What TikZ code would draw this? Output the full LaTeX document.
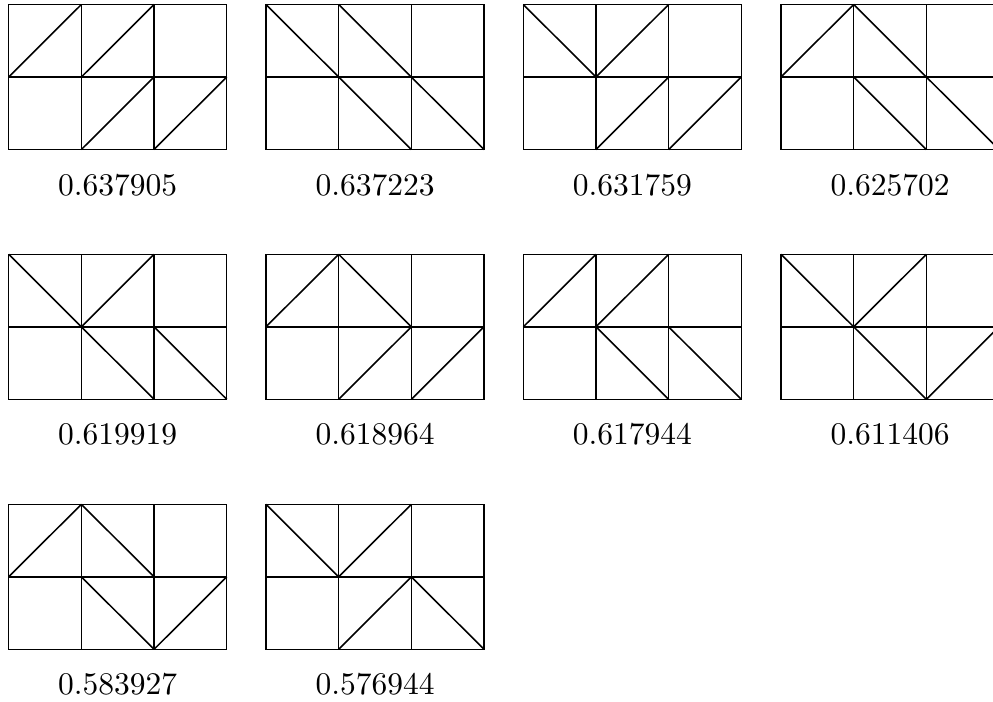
\documentclass[tikz,border=0pt]{standalone}
\tikzset{
  cellline/.style={line width=0.5pt, black},
  lbl/.style={font=\fontsize{10}{12}\selectfont, anchor=base, inner sep=0pt}
}
% #1 x, #2 y, #3 node name, #4 label, #5 diagonals c/r/s (s=1 '/', s=-1 '\')
\newcommand{\tgrid}[5]{%
  \begin{scope}[shift={(#1,#2)}]
    \draw[cellline] (0,0) rectangle (218,145);
    \draw[cellline] (72.667,0) -- (72.667,145);
    \draw[cellline] (145.333,0) -- (145.333,145);
    \draw[cellline] (0,72.5) -- (218,72.5);
    \foreach \c/\r/\s in {#5}{
      \draw[cellline] ({\c*72.667},{\r*72.5+72.5*(1+\s)/2}) -- ({(\c+1)*72.667},{\r*72.5+72.5*(1-\s)/2});
    }
    \node[lbl] (#3) at (109,190.5) {#4};
  \end{scope}%
}
\begin{document}
\begin{tikzpicture}[x=0.3175pt,y=-0.3175pt]
\useasboundingbox (0,0) rectangle (993,701);
\clip (0,0) rectangle (993,701);
\tgrid{8.7}{4.5}{g1}{0.637905}{0/0/1,1/0/1,1/1/1,2/1/1}
\tgrid{266}{4.5}{g2}{0.637223}{0/0/-1,1/0/-1,1/1/-1,2/1/-1}
\tgrid{523.3}{4.5}{g3}{0.631759}{0/0/-1,1/0/1,1/1/1,2/1/1}
\tgrid{781}{4.5}{g4}{0.625702}{0/0/1,1/0/-1,1/1/-1,2/1/-1}
\tgrid{8.7}{254.3}{g5}{0.619919}{0/0/-1,1/0/1,1/1/-1,2/1/-1}
\tgrid{266}{254.3}{g6}{0.618964}{0/0/1,1/0/-1,1/1/1,2/1/1}
\tgrid{523.3}{254.3}{g7}{0.617944}{0/0/1,1/0/1,1/1/-1,2/1/-1}
\tgrid{781}{254.3}{g8}{0.611406}{0/0/-1,1/0/1,1/1/-1,2/1/1}
\tgrid{8.7}{504.3}{g9}{0.583927}{0/0/1,1/0/-1,1/1/-1,2/1/1}
\tgrid{266}{504.3}{g10}{0.576944}{0/0/-1,1/0/1,1/1/1,2/1/-1}
\end{tikzpicture}
\end{document}
